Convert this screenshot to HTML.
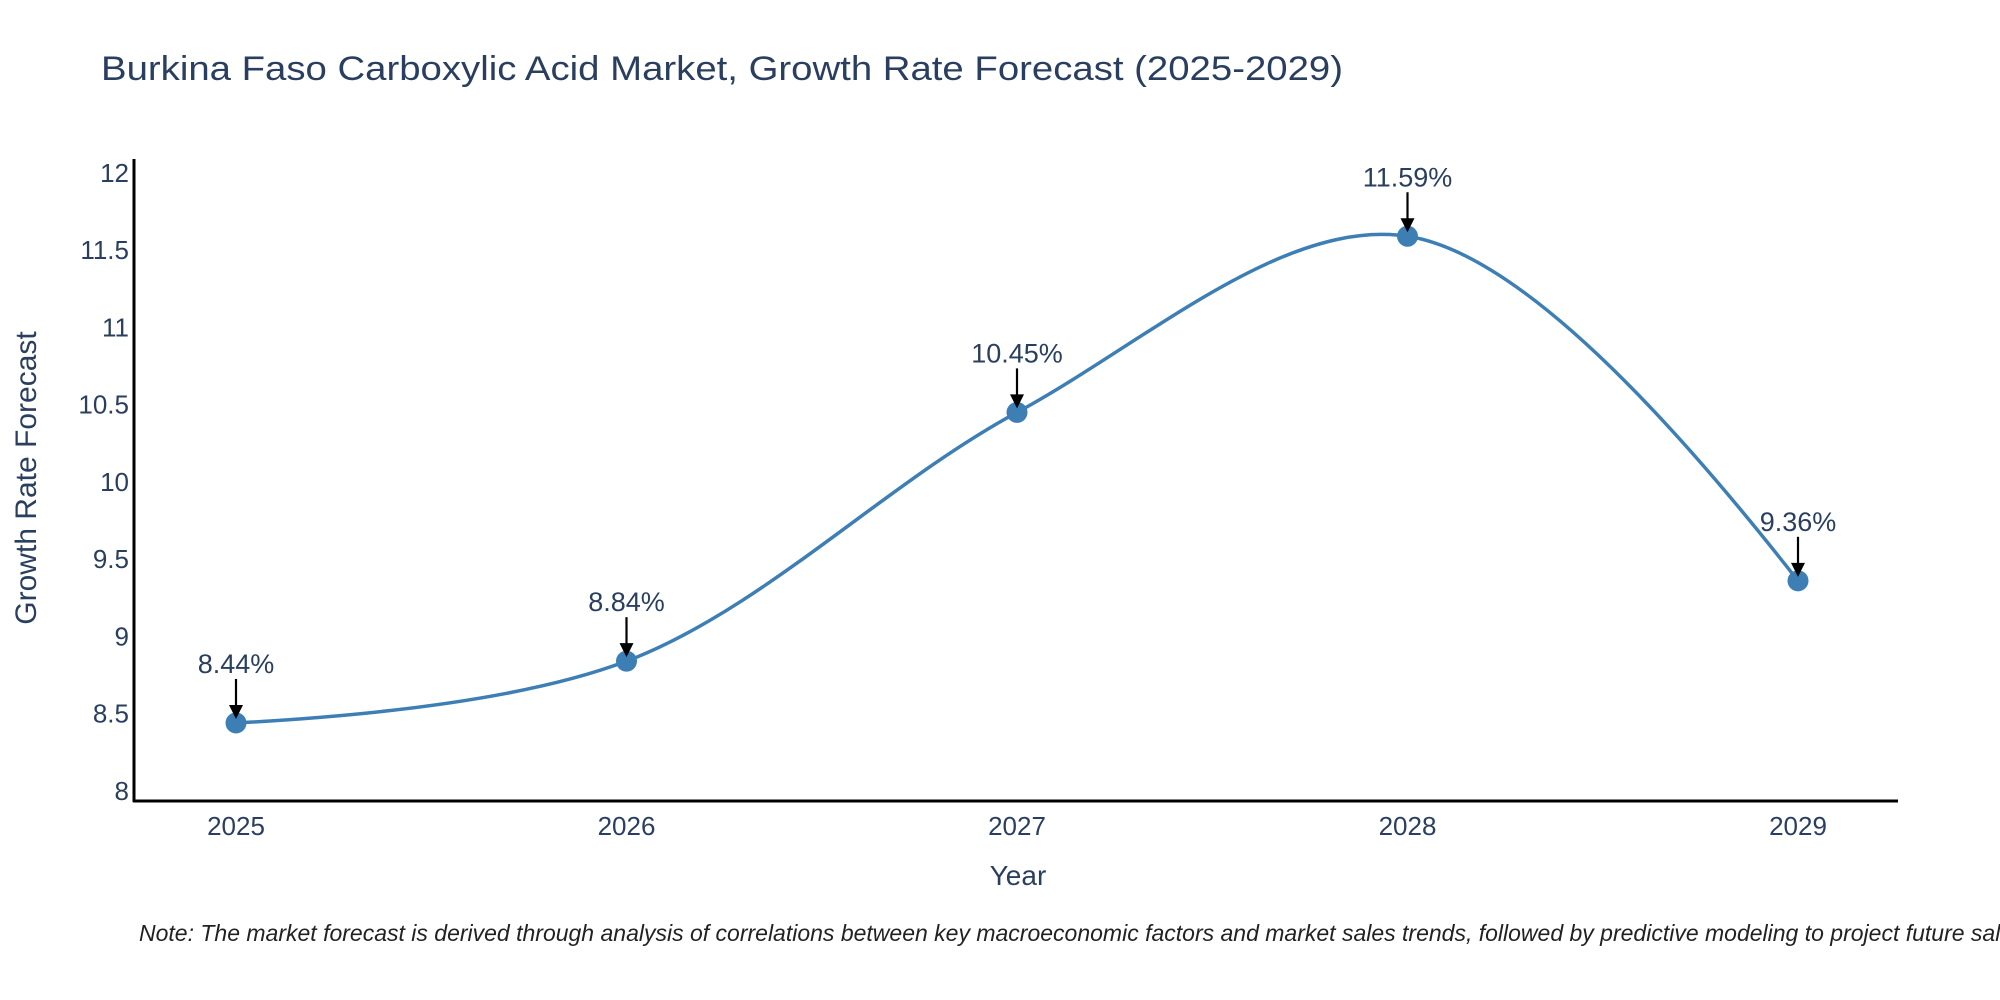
<!DOCTYPE html>
<html><head><meta charset="utf-8"><style>
html,body{margin:0;padding:0;background:#fff;}
svg{display:block;font-family:"Liberation Sans","DejaVu Sans",sans-serif;}
</style></head><body>
<svg id="chart" width="2000" height="1000" viewBox="0 0 2000 1000">
<rect x="0" y="0" width="2000" height="1000" fill="#fff"/>
<text x="101" y="80" font-size="34" fill="#2a3f5f" textLength="1242" lengthAdjust="spacingAndGlyphs">Burkina Faso Carboxylic Acid Market, Growth Rate Forecast (2025-2029)</text>
<g id="yticks"></g>
<g id="xticks"></g>
<line x1="134" y1="159" x2="134" y2="802" stroke="#000" stroke-width="3"/>
<line x1="133" y1="801" x2="1898" y2="801" stroke="#000" stroke-width="3"/>
<text x="1018" y="885" font-size="28" fill="#2a3f5f" text-anchor="middle">Year</text>
<text x="0" y="0" font-size="30" fill="#2a3f5f" text-anchor="middle" transform="translate(36,478) rotate(-90)">Growth Rate Forecast</text>
<g id="series"></g>
<g id="annots"></g>
<text x="139" y="941" font-size="23" font-style="italic" fill="#222">Note: The market forecast is derived through analysis of correlations between key macroeconomic factors and market sales trends, followed by predictive modeling to project future sales.</text>
</svg>
<script>
const years = [2025, 2026, 2027, 2028, 2029];
const growth = [8.44, 8.84, 10.45, 11.59, 9.36];
const yTickValues = [8, 8.5, 9, 9.5, 10, 10.5, 11, 11.5, 12];
const xTickLabels = ["2025", "2026", "2027", "2028", "2029"];

const NS = "http://www.w3.org/2000/svg";
const yMin = 7.935, yMax = 12.09, pyBottom = 801, pyTop = 159;
const xMin = 2025, xMax = 2029, pxLeft = 236, pxRight = 1798;
function sx(v){ return pxLeft + (v - xMin) / (xMax - xMin) * (pxRight - pxLeft); }
function sy(v){ return pyBottom - (v - yMin) / (yMax - yMin) * (pyBottom - pyTop); }
function mk(tag, attrs, parent){ const e = document.createElementNS(NS, tag); for (const k in attrs) e.setAttribute(k, attrs[k]); parent.appendChild(e); return e; }

const yg = document.getElementById('yticks');
yTickValues.forEach(v => {
  const t = mk('text', {x: 129, y: sy(v) + 9, 'font-size': 26, fill: '#2a3f5f', 'text-anchor': 'end'}, yg);
  
  
  t.textContent = String(v);
});
const xg = document.getElementById('xticks');
xTickLabels.forEach((lab, i) => {
  const t = mk('text', {x: sx(years[i]), y: 835, 'font-size': 26, fill: '#2a3f5f', 'text-anchor': 'middle'}, xg);
  
  
  t.textContent = lab;
});

const pts = years.map((y, i) => [sx(y), sy(growth[i])]);
function tangents(p0, p1, p2){
  const dx1 = p1[0]-p0[0], dy1 = p1[1]-p0[1], dx2 = p2[0]-p1[0], dy2 = p2[1]-p1[1];
  const d1a = Math.pow(dx1*dx1+dy1*dy1, 0.25), d2a = Math.pow(dx2*dx2+dy2*dy2, 0.25);
  const numx = (d2a*d2a*dx1 + d1a*d1a*dx2), numy = (d2a*d2a*dy1 + d1a*d1a*dy2);
  const denom1 = 3*d2a*(d1a+d2a), denom2 = 3*d1a*(d1a+d2a);
  return [[p1[0] - numx/denom1, p1[1] - numy/denom1], [p1[0] + numx/denom2, p1[1] + numy/denom2]];
}
const tg = [];
for (let i = 1; i < pts.length - 1; i++) tg.push(tangents(pts[i-1], pts[i], pts[i+1]));
let d = 'M' + pts[0].join(',') + 'Q' + tg[0][0].join(',') + ' ' + pts[1].join(',');
for (let i = 1; i < pts.length - 2; i++) d += 'C' + tg[i-1][1].join(',') + ' ' + tg[i][0].join(',') + ' ' + pts[i+1].join(',');
d += 'Q' + tg[tg.length-1][1].join(',') + ' ' + pts[pts.length-1].join(',');
const sg = document.getElementById('series');
const line = mk('path', {d: d, fill: 'none', stroke: '#3d7fb4', 'stroke-width': 3.5}, sg);


pts.forEach(p => {
  const c = mk('circle', {cx: p[0], cy: p[1], r: 10.5, fill: '#3d7fb4'}, sg);
  
  
});

const ag = document.getElementById('annots');
pts.forEach((p, i) => {
  const l = mk('line', {x1: p[0], y1: p[1] - 44, x2: p[0], y2: p[1] - 16, stroke: '#000', 'stroke-width': 2.2}, ag);
  
  
  const h = mk('polygon', {points: (p[0]-7)+','+(p[1]-18)+' '+(p[0]+7)+','+(p[1]-18)+' '+p[0]+','+(p[1]-4), fill: '#000'}, ag);
  
  
  const t = mk('text', {x: p[0], y: p[1] - 50, 'font-size': 27, fill: '#2a3f5f', 'text-anchor': 'middle'}, ag);
  
  
  t.textContent = growth[i].toFixed(2) + '%';
});
</script>
</body></html>
